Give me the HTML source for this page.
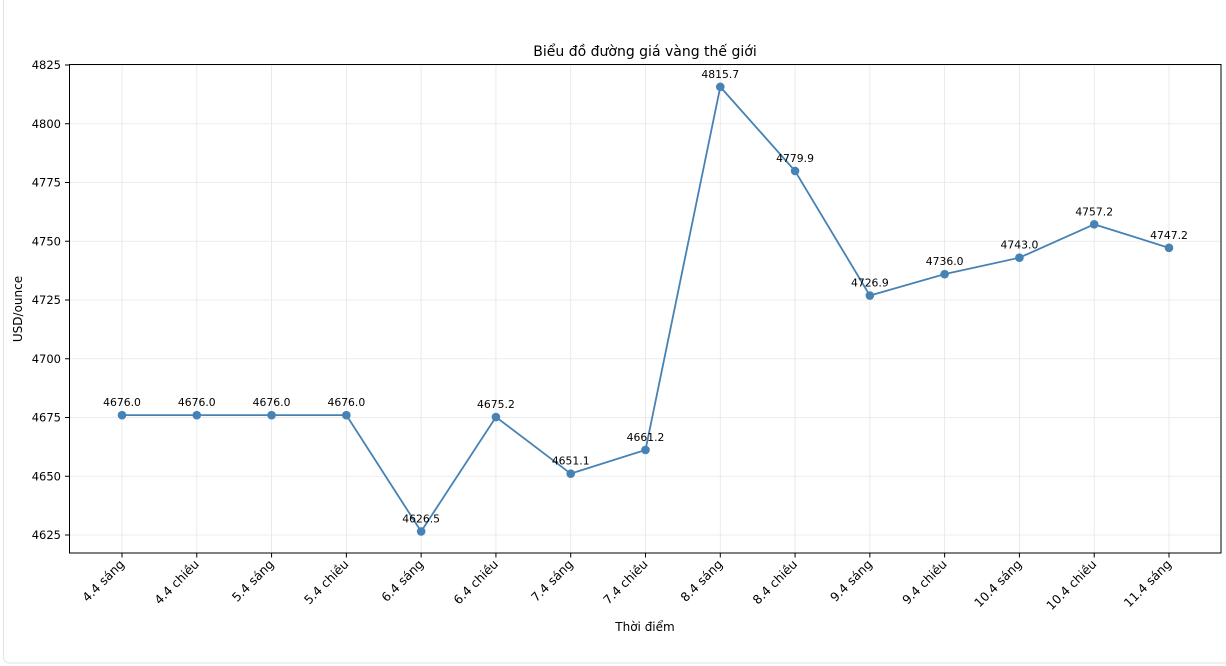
<!DOCTYPE html>
<html><head><meta charset="utf-8"><style>
body{margin:0;background:#fff;}
svg{display:block;font-family:"DejaVu Sans","Liberation Sans",sans-serif;}
</style></head><body>
<svg id="c" width="1226" height="666">
<rect x="3.5" y="-10" width="1240" height="673" rx="6" fill="#fff" stroke="#e2e2e2"/>
<text x="645" y="56" text-anchor="middle" font-size="14" fill="#000">Biểu đồ đường giá vàng thế giới</text>
<text x="645" y="631" text-anchor="middle" font-size="12" fill="#000">Thời điểm</text>
<text transform="translate(22,309) rotate(-90)" text-anchor="middle" font-size="12" fill="#000">USD/ounce</text>
<g id="grid"></g><g id="axes"></g><g id="series"></g>
<rect x="69.5" y="64.5" width="1151.5" height="488.5" fill="none" stroke="#000" stroke-width="1"/>
</svg>
<script>
const categories=["4.4 sáng","4.4 chiều","5.4 sáng","5.4 chiều","6.4 sáng","6.4 chiều","7.4 sáng","7.4 chiều","8.4 sáng","8.4 chiều","9.4 sáng","9.4 chiều","10.4 sáng","10.4 chiều","11.4 sáng"];
const prices=[4676.0,4676.0,4676.0,4676.0,4626.5,4675.2,4651.1,4661.2,4815.7,4779.9,4726.9,4736.0,4743.0,4757.2,4747.2];
const yTicks=[4625,4650,4675,4700,4725,4750,4775,4800,4825];
const NS="http://www.w3.org/2000/svg";
const x=i=>122+i*(1169-122)/(categories.length-1);
const y=v=>535+(v-4625)*(65-535)/200;
function mk(tag,attrs,parent){const e=document.createElementNS(NS,tag);for(const k in attrs)e.setAttribute(k,attrs[k]);parent.appendChild(e);return e;}
const grid=document.getElementById('grid'),axes=document.getElementById('axes'),ser=document.getElementById('series');
yTicks.forEach(t=>{
 const g=mk('line',{x1:70,x2:1221,y1:y(t),y2:y(t),stroke:'#e6e6e6','stroke-width':0.8},grid);
 
 
 const tk=mk('line',{x1:65,x2:69.5,y1:y(t),y2:y(t),stroke:'#000'},axes);
 
 
 const l=mk('text',{x:61,y:y(t)+4,'text-anchor':'end','font-size':11.5,fill:'#000'},axes);
 l.textContent=t;
 
 
});
categories.forEach((c,i)=>{
 const g=mk('line',{x1:x(i),x2:x(i),y1:65,y2:553,stroke:'#e6e6e6','stroke-width':0.8},grid);
 
 
 const tk=mk('line',{x1:x(i),x2:x(i),y1:553,y2:557.5,stroke:'#000'},axes);
 
 
 const l=mk('text',{transform:`translate(${x(i)+3},${565}) rotate(-45)`,'text-anchor':'end','font-size':12.3,fill:'#000'},axes);
 l.textContent=c;
 
 
});
const p=mk('polyline',{points:prices.map((v,i)=>x(i)+','+y(v)).join(' '),fill:'none',stroke:'#4682b4','stroke-width':1.8},ser);


prices.forEach((v,i)=>{
 const c=mk('circle',{cx:x(i),cy:y(v),r:4.3,fill:'#4682b4'},ser);
 
 
 const t=mk('text',{x:x(i),y:y(v)-9,'text-anchor':'middle','font-size':10.8,fill:'#000'},ser);
 t.textContent=v.toFixed(1);
 
 
});
</script>
</body></html>
